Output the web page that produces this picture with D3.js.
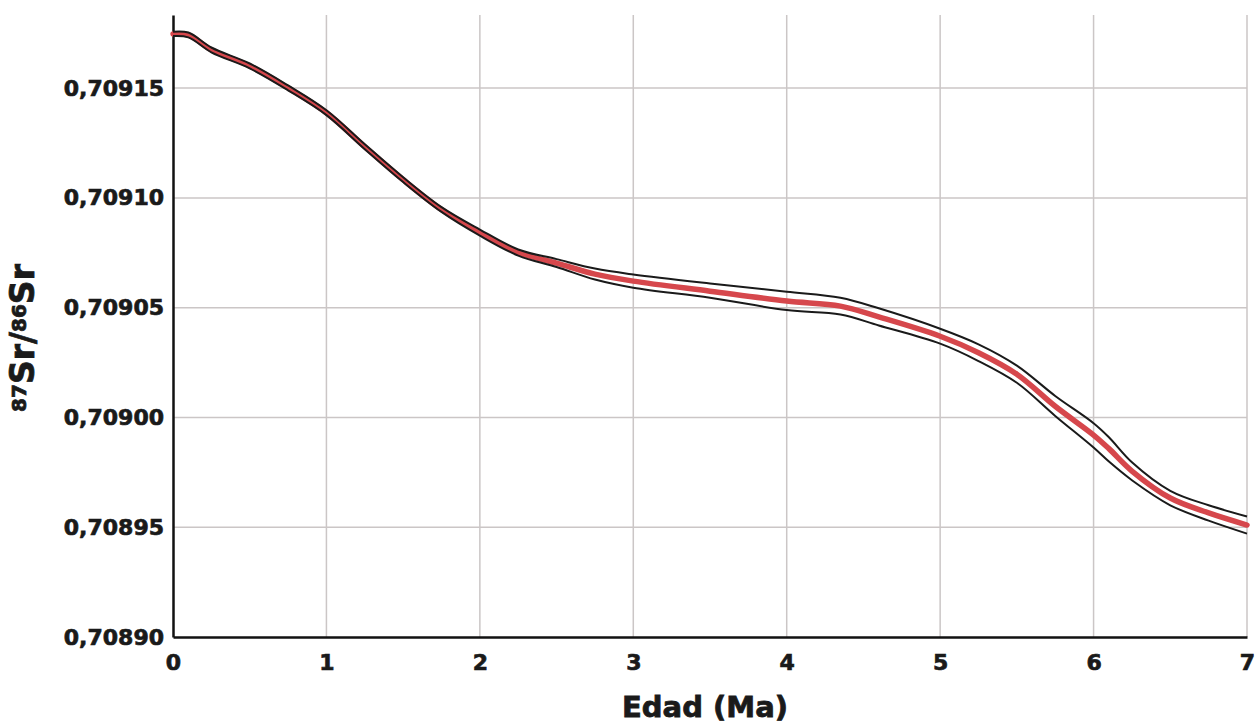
<!DOCTYPE html>
<html>
<head>
<meta charset="utf-8">
<script src="https://cdn.jsdelivr.net/npm/d3@7"></script>
<style>
    html, body { margin: 0; padding: 0; background: #fff; }
    svg { display: block; }
</style>
</head>
<body>
<div class="chart-container"></div>
<script>
// edad (Ma) y curva 87Sr/86Sr: banda superior, media e inferior
const ages = [0, 0.1, 0.25, 0.5, 0.75, 1, 1.25, 1.5, 1.75, 2, 2.25, 2.5, 2.75, 3, 3.5, 4, 4.35, 4.6, 5, 5.25, 5.5, 5.75, 6, 6.1, 6.25, 6.5, 6.75, 7];
const meanSr = [0.7091747, 0.7091742, 0.7091674, 0.7091601, 0.7091501, 0.7091388, 0.7091233, 0.7091083, 0.7090947, 0.7090842, 0.7090751, 0.7090703, 0.7090653, 0.7090621, 0.7090575, 0.7090530, 0.7090507, 0.7090458, 0.7090370, 0.7090295, 0.7090197, 0.7090051, 0.7089920, 0.7089858, 0.7089756, 0.7089633, 0.7089565, 0.7089510];
const upperSr = [0.7091757, 0.7091753, 0.7091685, 0.7091612, 0.7091512, 0.7091399, 0.7091244, 0.7091094, 0.7090958, 0.7090856, 0.7090765, 0.7090721, 0.7090678, 0.7090651, 0.7090610, 0.7090573, 0.7090545, 0.7090497, 0.7090404, 0.7090333, 0.7090236, 0.7090098, 0.7089974, 0.7089910, 0.7089796, 0.7089666, 0.7089600, 0.7089549];
const lowerSr = [0.7091737, 0.7091731, 0.7091663, 0.7091590, 0.7091490, 0.7091377, 0.7091222, 0.7091072, 0.7090936, 0.7090828, 0.7090737, 0.7090685, 0.7090628, 0.7090591, 0.7090545, 0.7090489, 0.7090469, 0.7090419, 0.7090336, 0.7090257, 0.7090158, 0.7090007, 0.7089863, 0.7089799, 0.7089714, 0.7089600, 0.7089530, 0.7089471];

const xTicks = [0, 1, 2, 3, 4, 5, 6, 7];
const yTicks = [0.70890, 0.70895, 0.70900, 0.70905, 0.70910, 0.70915];

const width = 1256;
const height = 723;
const margin = { top: 15, right: 9, bottom: 86, left: 173 };
const font = 'DejaVu Sans, sans-serif';

const esLocale = d3.formatLocale({ decimal: ',', thousands: '.', grouping: [3], currency: ['', '€'] });
const fmt = esLocale.format('.5f');

const x = d3.scaleLinear()
    .domain([0, 7])
    .range([margin.left, width - margin.right]);

const y = d3.scaleLinear()
    .domain([0.70890, 0.7091833])
    .range([height - margin.bottom, margin.top]);

const svg = d3.select('.chart-container')
    .append('svg')
    .attr('width', width)
    .attr('height', height);

// rejilla
svg.append('g')
    .attr('class', 'grid-x')
    .selectAll('line')
    .data(xTicks.filter(d => d > 0))
    .enter()
    .append('line')
    .attr('x1', d => x(d))
    .attr('x2', d => x(d))
    .attr('y1', y.range()[1])
    .attr('y2', y.range()[0])
    .attr('stroke', '#cbc6c6')
    .attr('stroke-width', 1.5);

svg.append('g')
    .attr('class', 'grid-y')
    .selectAll('line')
    .data(yTicks.filter(d => d > 0.70890))
    .enter()
    .append('line')
    .attr('x1', x.range()[0])
    .attr('x2', x.range()[1])
    .attr('y1', d => y(d))
    .attr('y2', d => y(d))
    .attr('stroke', '#cbc6c6')
    .attr('stroke-width', 1.5);

// ejes
const xAxis = svg.append('g')
    .attr('transform', `translate(0,${y.range()[0]})`)
    .call(d3.axisBottom(x).tickValues(xTicks).tickFormat(d3.format('d')).tickSize(0).tickPadding(17));

const yAxis = svg.append('g')
    .attr('transform', `translate(${x.range()[0]},0)`)
    .call(d3.axisLeft(y).tickValues(yTicks).tickFormat(fmt).tickSize(0).tickPadding(9));

[xAxis, yAxis].forEach(g => {
    g.select('.domain')
        .attr('stroke', '#111')
        .attr('stroke-width', 2.5);
    g.selectAll('text')
        .attr('fill', '#1a1a1a')
        .attr('stroke', '#1a1a1a')
        .attr('stroke-width', 0.7)
        .style('font-family', font)
        .style('font-weight', 'bold')
        .style('font-size', '22px');
});

const series = ages.map((age, i) => ({ age, mean: meanSr[i], upper: upperSr[i], lower: lowerSr[i] }));

const lineOf = key => d3.line()
    .x(d => x(d.age))
    .y(d => y(d[key]))
    .curve(d3.curveCatmullRom.alpha(0.5));

svg.append('path')
    .datum(series)
    .attr('fill', 'none')
    .attr('stroke', '#d6474c')
    .attr('stroke-width', 5.5)
    .attr('stroke-linecap', 'round')
    .attr('d', lineOf('mean'));

['upper', 'lower'].forEach(key => {
    svg.append('path')
        .datum(series)
        .attr('fill', 'none')
        .attr('stroke', '#1a1a1a')
        .attr('stroke-width', 2)
        .attr('d', lineOf(key));
});

// titulos
svg.append('text')
    .attr('x', 705)
    .attr('y', 717)
    .attr('text-anchor', 'middle')
    .attr('fill', '#1a1a1a')
    .attr('stroke', '#1a1a1a')
    .attr('stroke-width', 0.8)
    .style('font-family', font)
    .style('font-weight', 'bold')
    .style('font-size', '29px')
    .text('Edad (Ma)');

const yTitle = svg.append('text')
    .attr('transform', 'translate(34,338) rotate(-90)')
    .attr('text-anchor', 'middle')
    .attr('fill', '#1a1a1a')
    .attr('stroke', '#1a1a1a')
    .attr('stroke-width', 0.8)
    .style('font-family', font)
    .style('font-weight', 'bold')
    .style('font-size', '33px');

yTitle.append('tspan').attr('font-size', '20px').attr('baseline-shift', '40%').text('87');
yTitle.append('tspan').text('Sr/');
yTitle.append('tspan').attr('font-size', '20px').attr('baseline-shift', '40%').text('86');
yTitle.append('tspan').text('Sr');
</script>
</body>
</html>
